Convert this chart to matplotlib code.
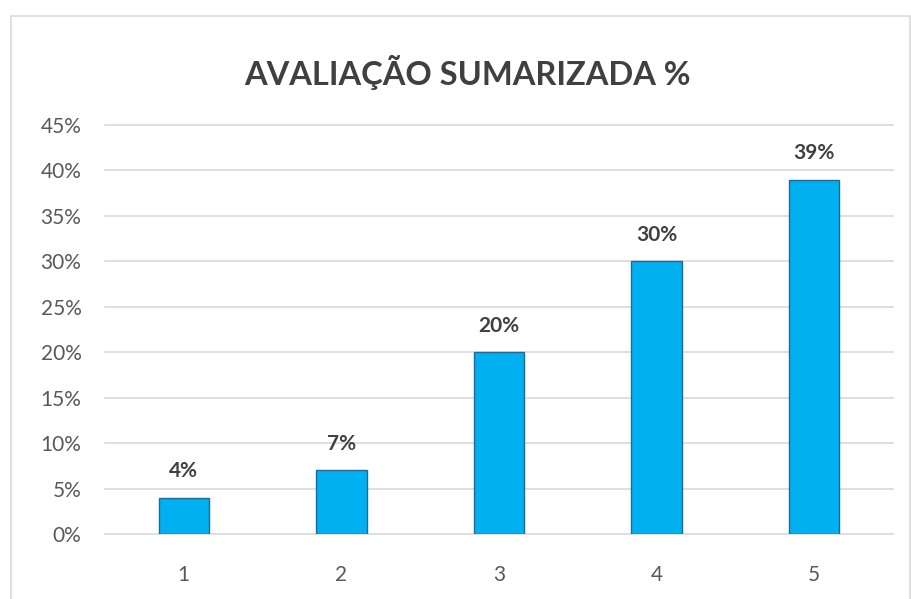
import matplotlib
matplotlib.use("Agg")
import matplotlib.pyplot as plt
from matplotlib.patches import Rectangle
from matplotlib.ticker import FuncFormatter

categories = ["1", "2", "3", "4", "5"]
values = [4, 7, 20, 30, 39]
labels = ["4%", "7%", "20%", "30%", "39%"]
yticks = [0, 5, 10, 15, 20, 25, 30, 35, 40, 45]
title = "AVALIAÇÃO SUMARIZADA %"

FONT = ["Lato", "DejaVu Sans"]
W, H = 911, 599
fig = plt.figure(figsize=(W / 100, H / 100), dpi=100)
fig.patch.set_facecolor("white")

# chart frame
fig.patches.append(Rectangle((11 / W, -0.01), (910 - 11) / W, (H - 16) / H + 0.01,
                             transform=fig.transFigure, fill=False,
                             edgecolor="#d9d9d9", linewidth=1.2))

ax = fig.add_axes([105 / W, (H - 534) / H, (893 - 105) / W, (534 - 125) / H])
x = list(range(len(categories)))
ax.bar(x, values, width=0.32, color="#00b0f0", edgecolor="#1e6b9a", linewidth=1.0, zorder=3)
ax.set_xlim(-0.5, len(categories) - 0.5)
ax.set_ylim(0, 45)
ax.set_yticks(yticks)
ax.yaxis.set_major_formatter(FuncFormatter(lambda v, p: f"{int(v)}%"))
ax.set_xticks(x)
ax.set_xticklabels(categories)
ax.grid(axis="y", color="#d9d9d9", linewidth=1.2, zorder=0)
for gl in ax.get_ygridlines():
    gl.set_clip_on(False)
for s in ax.spines.values():
    s.set_visible(False)
ax.tick_params(axis="both", length=0, colors="#595959")
ax.tick_params(axis="y", pad=17)
ax.tick_params(axis="x", pad=22)
for t in ax.get_xticklabels() + ax.get_yticklabels():
    t.set_fontfamily(FONT)
    t.set_fontsize(15)

for xi, v, lab in zip(x, values, labels):
    ax.annotate(lab, (xi, v), xytext=(0, 12), textcoords="offset points",
                ha="center", va="bottom", fontsize=15, fontweight="bold",
                color="#404040", family=FONT)

fig.text((245 + 690) / 2 / W, 1 - 72 / H, title, ha="center", va="center",
         fontsize=23.5, fontweight="bold", color="#404040", family=FONT)

fig.savefig("out.png", dpi=100)
